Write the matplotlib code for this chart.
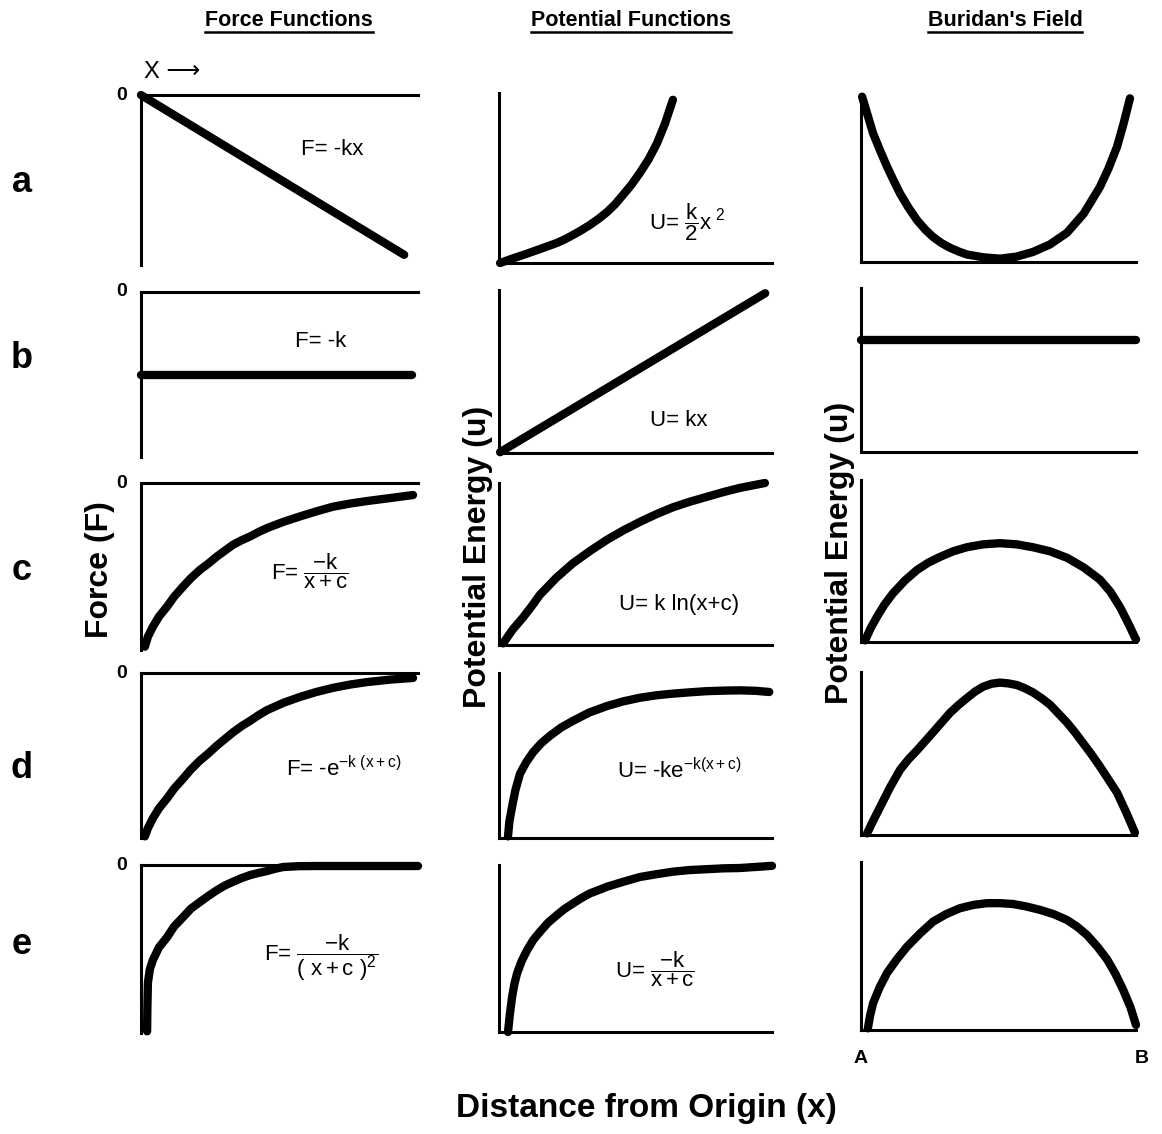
import numpy as np
import matplotlib.pyplot as plt
import matplotlib

matplotlib.rcParams['font.family'] = ['Liberation Sans', 'DejaVu Sans']
matplotlib.rcParams['mathtext.fontset'] = 'custom'
matplotlib.rcParams['mathtext.rm'] = 'Liberation Sans'
matplotlib.rcParams['mathtext.it'] = 'Liberation Sans'
matplotlib.rcParams['mathtext.bf'] = 'Liberation Sans:bold'

W, H = 1162, 1134

# values, x from 0 to 10 across each panel,
# force panels run 0 (top) to -10, potential panels 0 (bottom) to 10

# Force functions
fa_x = [0, 9.5]
fa_y = [0, -9.4]
fb_x = [0, 9.8]
fb_y = [-5.0, -5.0]
fc_x = [0.14, 0.25, 0.43, 0.65, 0.94, 1.2, 1.52, 1.8, 2.13, 2.45, 2.74, 3.03, 3.32,
        3.63, 3.94, 4.25, 4.55, 5.15, 5.74, 6.33, 6.93, 7.55, 8.16, 9.0, 9.82]
fc_y = [-9.8, -9.2, -8.6, -8.0, -7.4, -6.8, -6.2, -5.7, -5.2, -4.8, -4.4, -4.05, -3.7,
        -3.43, -3.2, -2.93, -2.7, -2.32, -2.0, -1.7, -1.42, -1.23, -1.08, -0.9, -0.72]
fd_x = [0.14, 0.25, 0.43, 0.65, 0.94, 1.2, 1.52, 1.8, 2.13, 2.45, 2.74, 3.03, 3.32,
        3.63, 3.94, 4.25, 4.55, 5.15, 5.74, 6.33, 6.93, 7.55, 8.16, 9.0, 9.82]
fd_y = [-9.9, -9.4, -8.8, -8.2, -7.6, -7.0, -6.4, -5.85, -5.3, -4.85, -4.4, -4.0, -3.6,
        -3.22, -2.9, -2.55, -2.25, -1.8, -1.45, -1.15, -0.9, -0.7, -0.55, -0.4, -0.3]
fe_x = [0.22, 0.23, 0.25, 0.32, 0.43, 0.65, 0.94, 1.2, 1.52, 1.8, 2.13, 2.45, 2.74,
        3.03, 3.32, 3.63, 3.94, 4.25, 4.55, 4.85, 5.13, 5.7, 6.35, 10.0]
fe_y = [-9.9, -8.5, -7.0, -6.2, -5.65, -4.9, -4.3, -3.65, -3.1, -2.6, -2.2, -1.82, -1.5,
        -1.22, -1.0, -0.78, -0.6, -0.47, -0.36, -0.22, -0.12, -0.07, -0.06, -0.06]

# Potential functions
pa_x = [0.04, 0.45, 0.88, 1.5, 2.12, 2.42, 2.71, 3.02, 3.33, 3.65, 3.96, 4.25, 4.54,
        4.85, 5.16, 5.48, 5.79, 6.08, 6.37]
pa_y = [0.0, 0.24, 0.47, 0.82, 1.18, 1.4, 1.65, 1.93, 2.24, 2.6, 3.0, 3.45, 4.0,
        4.6, 5.3, 6.1, 7.05, 8.2, 9.6]
pb_x = [0.04, 9.75]
pb_y = [0.05, 9.8]
pc_x = [0.15, 0.5, 0.88, 1.2, 1.5, 2.1, 2.71, 3.33, 3.96, 4.56, 5.16, 5.77, 6.37,
        7.0, 7.62, 8.22, 8.83, 9.74]
pc_y = [0.1, 0.95, 1.7, 2.4, 3.1, 4.15, 5.05, 5.8, 6.5, 7.08, 7.6, 8.08, 8.5,
        8.85, 9.15, 9.44, 9.7, 10.0]
pd_x = [0.33, 0.38, 0.48, 0.6, 0.77, 1.0, 1.25, 1.55, 1.87, 2.28, 2.71, 3.3, 3.96,
        4.55, 5.16, 5.77, 6.37, 7.0, 7.62, 8.2, 8.83, 9.4, 9.9]
pd_y = [0.1, 1.0, 1.9, 2.9, 3.9, 4.6, 5.2, 5.75, 6.2, 6.7, 7.1, 7.6, 8.0,
        8.28, 8.5, 8.65, 8.75, 8.83, 8.9, 8.93, 8.95, 8.92, 8.85]
pe_x = [0.33, 0.4, 0.48, 0.56, 0.66, 0.83, 1.03, 1.25, 1.5, 1.8, 2.12, 2.41, 2.71,
        3.02, 3.33, 3.65, 3.96, 4.56, 5.16, 5.77, 6.37, 7.0, 7.62, 8.22, 8.83, 10.0]
pe_y = [0.0, 1.1, 2.1, 2.85, 3.5, 4.25, 4.9, 5.5, 6.0, 6.55, 7.0, 7.38, 7.7,
        8.02, 8.3, 8.5, 8.7, 9.0, 9.28, 9.45, 9.6, 9.7, 9.75, 9.8, 9.82, 9.95]

# Buridan's field
ba_x = [0.04, 0.24, 0.44, 0.7, 0.95, 1.18, 1.42, 1.73, 2.04, 2.33, 2.62, 2.93, 3.24,
        3.55, 3.85, 4.45, 5.05, 5.65, 6.25, 6.87, 7.49, 8.1, 8.69, 9.0, 9.31, 9.55, 9.78]
ba_y = [9.9, 8.8, 7.7, 6.65, 5.7, 4.9, 4.1, 3.25, 2.5, 1.95, 1.5, 1.13, 0.85,
        0.63, 0.45, 0.28, 0.2, 0.32, 0.6, 1.05, 1.75, 2.9, 4.5, 5.6, 6.9, 8.3, 9.8]
bb_x = [0, 10]
bb_y = [6.8, 6.8]
bc_x = [0.15, 0.35, 0.58, 0.85, 1.16, 1.6, 2.04, 2.45, 2.87, 3.35, 3.85, 4.45, 5.05,
        5.65, 6.25, 6.87, 7.49, 8.1, 8.69, 9.07, 9.42, 9.72, 10.0]
bc_y = [0.1, 0.85, 1.55, 2.3, 3.0, 3.8, 4.45, 4.9, 5.25, 5.6, 5.85, 6.03, 6.1,
        6.03, 5.85, 5.6, 5.2, 4.6, 3.85, 3.1, 2.15, 1.15, 0.15]
bd_x = [0.22, 0.45, 0.69, 1.05, 1.42, 1.73, 2.04, 2.33, 2.62, 2.93, 3.24, 3.55, 3.85,
        4.15, 4.44, 4.75, 5.05, 5.36, 5.67, 5.96, 6.25, 6.56, 6.87, 7.18, 7.49, 7.78,
        8.07, 8.38, 8.69, 9.0, 9.31, 9.64, 9.96]
bd_y = [0.1, 0.9, 1.7, 2.9, 4.0, 4.65, 5.2, 5.75, 6.3, 6.9, 7.5, 7.98, 8.4,
        8.8, 9.1, 9.28, 9.35, 9.3, 9.2, 9.0, 8.75, 8.4, 8.0, 7.45, 6.9, 6.3,
        5.65, 4.95, 4.2, 3.4, 2.6, 1.4, 0.15]
be_x = [0.25, 0.33, 0.44, 0.68, 0.95, 1.3, 1.67, 2.15, 2.62, 3.1, 3.6, 4.1, 4.58,
        5.05, 5.53, 6.02, 6.51, 7.0, 7.49, 7.86, 8.22, 8.6, 8.95, 9.25, 9.53, 9.8, 10.0]
be_y = [0.1, 0.85, 1.6, 2.55, 3.4, 4.2, 4.95, 5.75, 6.45, 6.9, 7.25, 7.45, 7.55,
        7.55, 7.5, 7.35, 7.15, 6.9, 6.55, 6.15, 5.65, 4.95, 4.2, 3.35, 2.4, 1.35, 0.3]

force_labels = [r'F= -kx', r'F= -k', r'F= $\dfrac{-k}{x+c}$',
                r'F= -e$^{-k\ (x+c)}$', r'F= $\dfrac{-k}{(\ x+c\ )^2}$']
potential_labels = [r'U= $\dfrac{k}{2}$x$^{\ 2}$', r'U= kx', r'U= k ln(x+c)',
                    r'U= -ke$^{-k(x+c)}$', r'U= $\dfrac{-k}{x+c}$']
row_letters = ['a', 'b', 'c', 'd', 'e']

fig = plt.figure(figsize=(W / 100, H / 100), dpi=100)


def px_box(x0, x1, top, bot):
    return [x0 / W, 1 - bot / H, (x1 - x0) / W, (bot - top) / H]


def panel(box, xs, ys, kind):
    ax = fig.add_axes(box)
    ax.plot(xs, ys, color='black', lw=6, solid_capstyle='round',
            solid_joinstyle='round', clip_on=False)
    ax.set_xlim(0, 10)
    if kind == 'force':
        ax.set_ylim(-10, 0)
        ax.spines['bottom'].set_visible(False)
    else:
        ax.set_ylim(0, 10)
        ax.spines['top'].set_visible(False)
    ax.spines['right'].set_visible(False)
    for s in ax.spines.values():
        s.set_linewidth(2.2)
    ax.set_xticks([])
    ax.set_yticks([])
    ax.patch.set_alpha(0)
    return ax


force_data = [(fa_x, fa_y), (fb_x, fb_y), (fc_x, fc_y), (fd_x, fd_y), (fe_x, fe_y)]
pot_data = [(pa_x, pa_y), (pb_x, pb_y), (pc_x, pc_y), (pd_x, pd_y), (pe_x, pe_y)]
bur_data = [(ba_x, ba_y), (bb_x, bb_y), (bc_x, bc_y), (bd_x, bd_y), (be_x, be_y)]

# pixel bands of each row, per column
rows1 = [(95, 265), (292, 457), (483, 650), (673, 838), (865, 1033)]
rows2 = [(93, 263), (290, 453), (483, 645), (673, 838), (865, 1032)]
rows3 = [(95, 262), (288, 452), (480, 642), (672, 835), (862, 1030)]

force_pos = [(6.9, -3.2), (6.5, -3.0), (6.1, -5.3), (7.3, -5.8), (6.5, -5.5)]
pot_pos = [(6.9, 2.4), (6.6, 2.0), (6.6, 2.5), (6.6, 4.1), (5.7, 3.8)]
letter_y = [182, 358, 570, 768, 945]

for i in range(5):
    ax = panel(px_box(141, 418, *rows1[i]), *force_data[i], 'force')
    ax.text(-0.5, 0, '0', ha='right', va='center', fontsize=14, fontweight='bold')
    ax.text(*force_pos[i], force_labels[i], ha='center', va='center', fontsize=16)

    ax = panel(px_box(499, 772, *rows2[i]), *pot_data[i], 'pot')
    ax.text(*pot_pos[i], potential_labels[i], ha='center', va='center', fontsize=16)

    ax = panel(px_box(861, 1136, *rows3[i]), *bur_data[i], 'pot')
    if i == 4:
        ax.text(0, -1.2, 'A', ha='center', va='top', fontsize=14, fontweight='bold')
        ax.text(10.2, -1.2, 'B', ha='center', va='top', fontsize=14, fontweight='bold')

    fig.text(22 / W, 1 - letter_y[i] / H, row_letters[i], ha='center', va='center',
             fontsize=26, fontweight='bold')

fig.text(144 / W, 1 - 72 / H, 'X ⟶', ha='left', va='center', fontsize=17)

fig.text(100 / W, 1 - 570 / H, 'Force (F)', rotation=90, ha='center', va='center',
         fontsize=23, fontweight='bold')
fig.text(478 / W, 1 - 557 / H, 'Potential Energy (u)', rotation=90, ha='center', va='center',
         fontsize=23, fontweight='bold')
fig.text(840 / W, 1 - 553 / H, 'Potential Energy (u)', rotation=90, ha='center', va='center',
         fontsize=23, fontweight='bold')
fig.text(646 / W, 1 - 1108 / H, 'Distance from Origin (x)', ha='center', va='center',
         fontsize=24, fontweight='bold')

titles = []
for name, cx in [('Force Functions', 289), ('Potential Functions', 631), ("Buridan's Field", 1005)]:
    titles.append(fig.text(cx / W, 1 - 20 / H, name, ha='center', va='center',
                           fontsize=15.5, fontweight='bold'))

# underline the column titles
fig.canvas.draw()
r = fig.canvas.get_renderer()
for t in titles:
    bb = t.get_window_extent(renderer=r)
    y = (bb.y0 - 1) / H
    fig.add_artist(plt.Line2D([bb.x0 / W, bb.x1 / W], [y, y], color='black', lw=1.8,
                              transform=fig.transFigure))

plt.savefig('out.png', dpi=100)
